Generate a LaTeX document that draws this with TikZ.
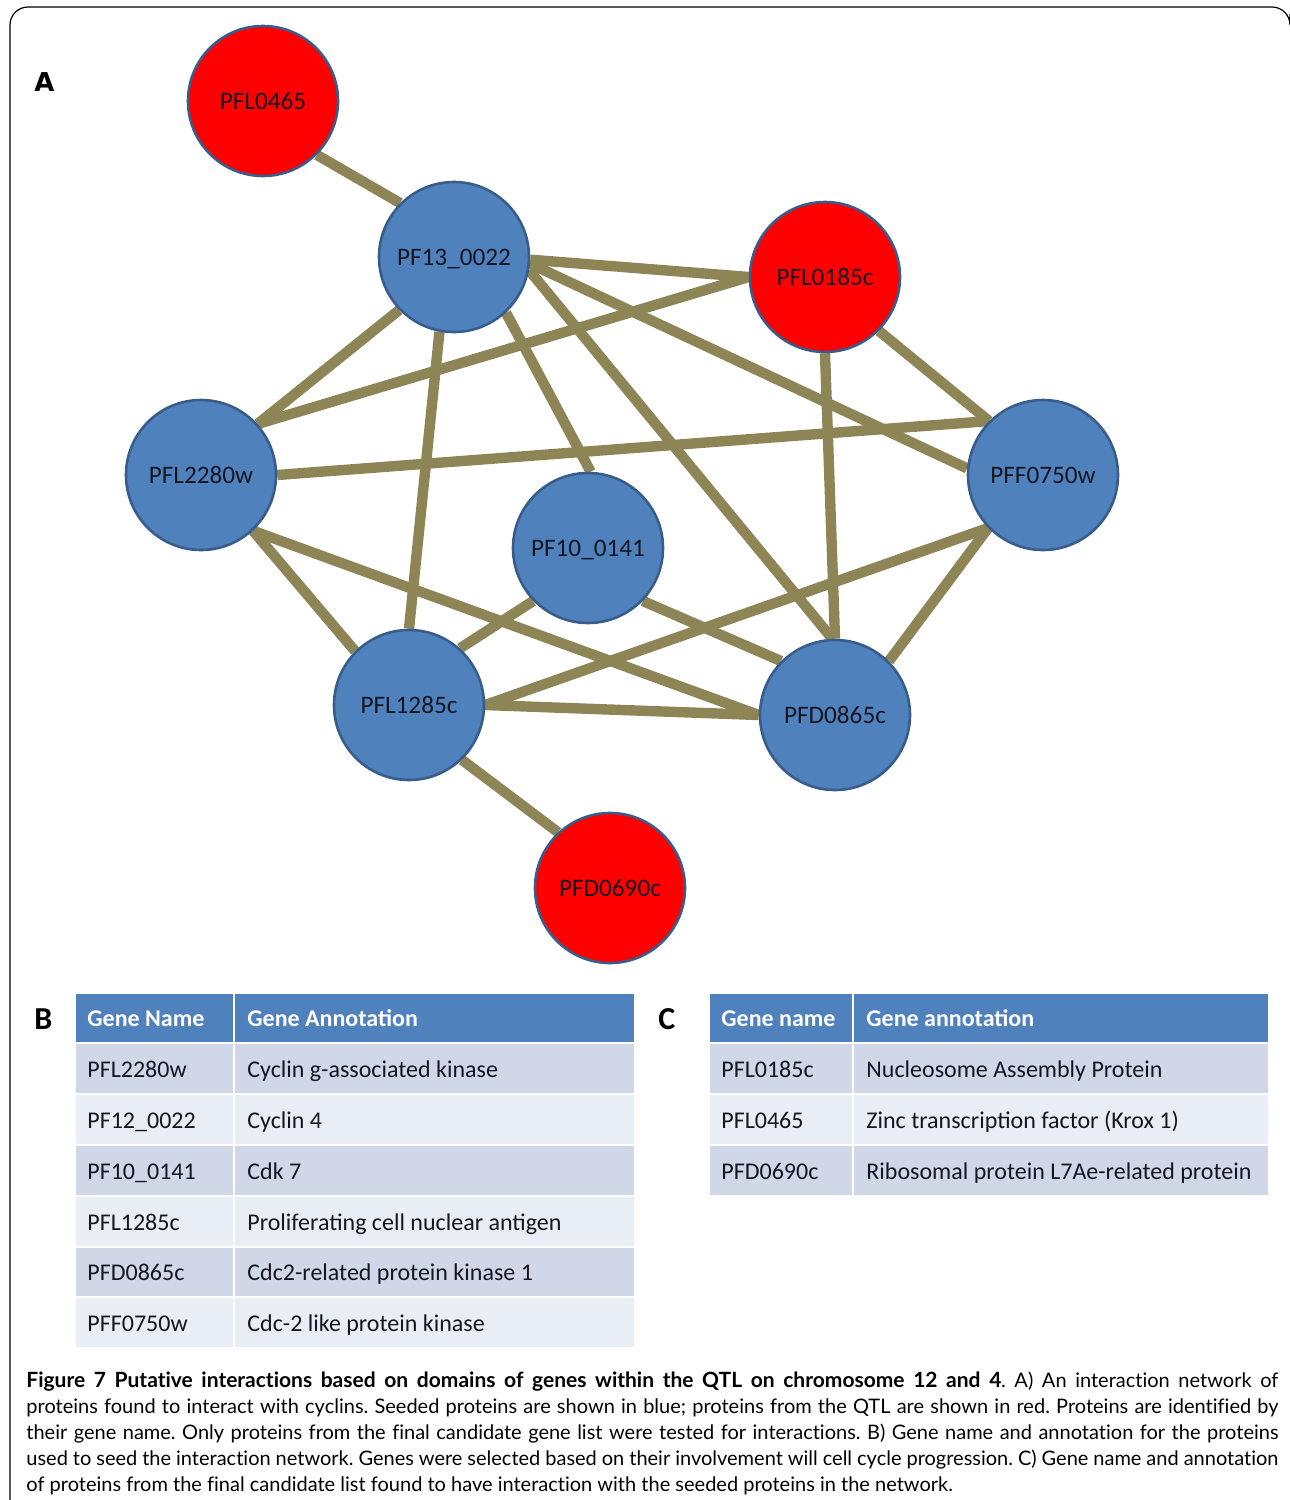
\documentclass[tikz,border=0pt]{standalone}
\usepackage{fontspec}
\setmainfont{Carlito}
\newfontfamily\capfont[Ligatures=NoCommon]{Lato}
\newfontfamily\labfont{DejaVu Sans}
\usetikzlibrary{backgrounds}
\definecolor{nodeblue}{RGB}{79,129,189}
\definecolor{nodeborder}{RGB}{56,93,138}
\definecolor{nodered}{RGB}{255,0,0}
\definecolor{edgecol}{RGB}{141,133,86}
\definecolor{hdr}{RGB}{79,129,189}
\definecolor{rowdark}{RGB}{208,216,232}
\definecolor{rowlight}{RGB}{233,237,244}
\definecolor{txt}{RGB}{22,22,34}
\begin{document}
\frenchspacing
\begin{tikzpicture}[x=0.5pt,y=-0.5pt,
 gene/.style={circle,draw=nodeborder,line width=1.3pt,minimum size=75pt,inner sep=0pt,
   font=\fontsize{12.6}{14}\selectfont,text=txt,text height=8.1pt,text depth=0pt},
 seed/.style={gene,fill=nodeblue},
 qtl/.style={gene,fill=nodered},
 link/.style={draw=edgecol,line width=5.2pt},
 celltxt/.style={anchor=base west,inner sep=0pt,font=\fontsize{12}{14}\selectfont,text=txt},
 hdrtxt/.style={anchor=base west,inner sep=0pt,font=\bfseries\fontsize{12}{14}\selectfont,text=white},
 hcell/.style={fill=hdr,draw=white,line width=1.2pt},
 dcell/.style={fill=rowdark,draw=white,line width=1.2pt},
 lcell/.style={fill=rowlight,draw=white,line width=1.2pt},
 captext/.style={anchor=base west,inner sep=0pt,font=\capfont\fontsize{10}{12}\selectfont,text=black},
 panel/.style={anchor=base west,inner sep=0pt,text=black}
]
\useasboundingbox (0,0) rectangle (1290,1500);
% frame
\draw[line width=0.6pt,rounded corners=9pt] (10,1500) -- (10,7) -- (1290,7) -- (1290,14);

% panel labels
\node[panel,font=\labfont\bfseries\fontsize{13}{15}\selectfont] (labA) at (34,91) {A};
\node[panel,font=\bfseries\fontsize{16}{18}\selectfont] (labB) at (34,1029) {B};
\node[panel,font=\bfseries\fontsize{16}{18}\selectfont] (labC) at (658,1029) {C};

% network nodes
\node[qtl]  (n0465) at (263,101) {PFL0465};
\node[seed] (n13)   at (454,257) {PF13\_0022};
\node[qtl]  (n0185) at (825,277) {PFL0185c};
\node[seed] (n2280) at (201,475) {PFL2280w};
\node[seed] (n0750) at (1043,475) {PFF0750w};
\node[seed] (n10)   at (588,548) {PF10\_0141};
\node[seed] (n1285) at (409,705) {PFL1285c};
\node[seed] (n0865) at (835,715) {PFD0865c};
\node[qtl]  (n0690) at (610,888) {PFD0690c};

\begin{scope}[on background layer]
\draw[link] (n0465.-45) -- (n13.135);
\draw[link] (n13.-2) -- (n0185.180);
\draw[link] (n13.-5) -- (n0750.175);
\draw[link] (n13.-10) -- (n0865.92);
\draw[link] (n13.-47) -- (n10.88);
\draw[link] (n13.-101) -- (n1285.90);
\draw[link] (n13.-136) -- (n2280.42);
\draw[link] (n0185.180) -- (n2280.42);
\draw[link] (n0185.270) -- (n0865.90);
\draw[link] (n0185.-45) -- (n0750.135);
\draw[link] (n2280.0) -- (n0750.135);
\draw[link] (n2280.-47) -- (n1285.135);
\draw[link] (n2280.-47) -- (n0865.180);
\draw[link] (n10.-136) -- (n1285.48);
\draw[link] (n10.-44) -- (n0865.135);
\draw[link] (n1285.0) -- (n0865.180);
\draw[link] (n1285.0) -- (n0750.224);
\draw[link] (n0750.224) -- (n0865.45);
\draw[link] (n1285.-46) -- (n0690.133);
\end{scope}

% table B
\path[hcell] (75,993) rectangle (234,1043);
\path[hcell] (234,993) rectangle (635,1043);
\path[dcell] (75,1043) rectangle (234,1094);  \path[dcell] (234,1043) rectangle (635,1094);
\path[lcell] (75,1094) rectangle (234,1145);  \path[lcell] (234,1094) rectangle (635,1145);
\path[dcell] (75,1145) rectangle (234,1196);  \path[dcell] (234,1145) rectangle (635,1196);
\path[lcell] (75,1196) rectangle (234,1247);  \path[lcell] (234,1196) rectangle (635,1247);
\path[dcell] (75,1247) rectangle (234,1297);  \path[dcell] (234,1247) rectangle (635,1297);
\path[lcell] (75,1297) rectangle (234,1348);  \path[lcell] (234,1297) rectangle (635,1348);
\node[hdrtxt] (bh1) at (87,1026) {Gene Name};
\node[hdrtxt] (bh2) at (247,1026) {Gene Annotation};
\node[celltxt] (b11) at (87,1077) {PFL2280w};
\node[celltxt] (b12) at (247,1077) {Cyclin g-associated kinase};
\node[celltxt] (b21) at (87,1128) {PF12\_0022};
\node[celltxt] (b22) at (247,1128) {Cyclin 4};
\node[celltxt] (b31) at (87,1179) {PF10\_0141};
\node[celltxt] (b32) at (247,1179) {Cdk 7};
\node[celltxt] (b41) at (87,1230) {PFL1285c};
\node[celltxt] (b42) at (247,1230) {Proliferating cell nuclear antigen};
\node[celltxt] (b51) at (87,1280) {PFD0865c};
\node[celltxt] (b52) at (247,1280) {Cdc2-related protein kinase 1};
\node[celltxt] (b61) at (87,1331) {PFF0750w};
\node[celltxt] (b62) at (247,1331) {Cdc-2 like protein kinase};

% table C
\path[hcell] (709,993) rectangle (853,1043);
\path[hcell] (853,993) rectangle (1269,1043);
\path[dcell] (709,1043) rectangle (853,1094);  \path[dcell] (853,1043) rectangle (1269,1094);
\path[lcell] (709,1094) rectangle (853,1145);  \path[lcell] (853,1094) rectangle (1269,1145);
\path[dcell] (709,1145) rectangle (853,1196);  \path[dcell] (853,1145) rectangle (1269,1196);
\node[hdrtxt] (ch1) at (721,1026) {Gene name};
\node[hdrtxt] (ch2) at (866,1026) {Gene annotation};
\node[celltxt] (c11) at (721,1077) {PFL0185c};
\node[celltxt] (c12) at (866,1077) {Nucleosome Assembly Protein};
\node[celltxt] (c21) at (721,1128) {PFL0465};
\node[celltxt] (c22) at (866,1128) {Zinc transcription factor (Krox 1)};
\node[celltxt] (c31) at (721,1179) {PFD0690c};
\node[celltxt] (c32) at (866,1179) {Ribosomal protein L7Ae-related protein};

% caption
\node[captext] (cap1) at (26,1387) {\makebox[626pt][s]{\textbf{\fontsize{10.5}{12}\selectfont Figure 7 Putative interactions based on domains of genes within the QTL on chromosome 12 and 4}. A) An interaction network of}};
\node[captext] (cap2) at (26,1413) {\makebox[626pt][s]{proteins found to interact with cyclins. Seeded proteins are shown in blue; proteins from the QTL are shown in red. Proteins are identified by}};
\node[captext] (cap3) at (26,1439) {\makebox[626pt][s]{their gene name. Only proteins from the final candidate gene list were tested for interactions. B) Gene name and annotation for the proteins}};
\node[captext] (cap4) at (26,1465) {\makebox[626pt][s]{used to seed the interaction network. Genes were selected based on their involvement will cell cycle progression. C) Gene name and annotation}};
\node[captext] (cap5) at (26,1491) {of proteins from the final candidate list found to have interaction with the seeded proteins in the network.};
\end{tikzpicture}
\end{document}
